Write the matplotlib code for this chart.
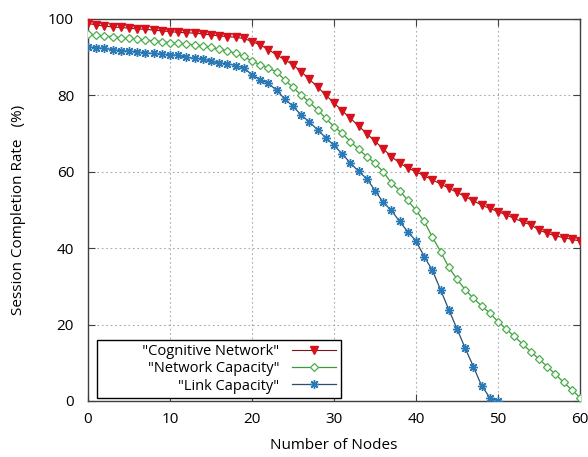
import matplotlib.pyplot as plt
import numpy as np

plt.rcParams['font.family'] = ['Open Sans', 'DejaVu Sans']

# Datos
nodes = np.arange(0, 61)
nodes_link = np.arange(0, 51)

cognitive = [98.9, 98.4, 98.2, 97.9, 97.8, 97.6, 97.4, 97.3, 97.1, 96.9,
             96.7, 96.5, 96.4, 96.3, 96.1, 95.8, 95.6, 95.4, 95.2, 94.9,
             94.1, 93.2, 92.0, 90.6, 89.3, 88.0, 86.2, 84.2, 82.2, 80.1,
             78.0, 76.0, 74.0, 72.0, 70.0, 68.0, 66.0, 64.0, 62.3, 61.0,
             60.0, 59.0, 57.9, 56.8, 55.7, 54.6, 53.5, 52.4, 51.3, 50.4,
             49.6, 48.7, 47.8, 46.9, 46.1, 44.8, 43.9, 43.2, 42.8, 42.3,
             41.9]

net_capacity = [96.0, 95.8, 95.5, 95.4, 95.1, 94.9, 94.8, 94.5, 94.3, 94.1,
                93.8, 93.6, 93.5, 93.2, 93.0, 92.6, 92.1, 91.7, 91.0, 90.2,
                89.0, 88.0, 87.1, 86.2, 84.0, 82.1, 80.1, 78.2, 76.2, 74.0,
                71.8, 70.1, 67.9, 65.9, 64.0, 62.2, 60.0, 57.1, 55.1, 52.5,
                49.9, 47.0, 42.9, 39.1, 35.0, 31.9, 29.1, 26.9, 24.9, 23.0,
                20.8, 18.8, 16.9, 14.9, 12.9, 11.0, 9.0, 7.0, 4.9, 2.9,
                0.9]

link_capacity = [92.7, 92.5, 92.3, 92.0, 91.7, 91.6, 91.4, 91.1, 91.0, 90.8,
                 90.6, 90.5, 90.0, 89.7, 89.6, 89.0, 88.5, 88.3, 87.8, 87.2,
                 85.4, 84.1, 83.2, 81.3, 79.1, 77.1, 74.9, 73.0, 71.0, 68.9,
                 66.9, 64.7, 62.3, 60.1, 58.2, 55.1, 52.0, 49.9, 47.0, 44.3,
                 41.9, 37.8, 34.2, 29.1, 23.9, 18.9, 13.8, 9.0, 4.0, 0.9,
                 0.0]

fig = plt.figure(figsize=(5.88, 4.57), dpi=100)
ax = fig.add_axes([88/588, 1-401/457, 492/588, 382/457])

ax.plot(nodes, cognitive, color='#7a1515', linewidth=0.8,
        marker='v', markersize=6, markerfacecolor='#d7121c',
        markeredgecolor='#d7121c', label='           "Cognitive Network"', zorder=3)
ax.plot(nodes, net_capacity, color='#3c9a3c', linewidth=0.9,
        marker='D', markersize=4, markerfacecolor='white',
        markeredgecolor='#4caf4c', markeredgewidth=0.9,
        label='"Network Capacity"', zorder=3)
ax.plot(nodes_link, link_capacity, color='#2b4f6e', linewidth=0.9,
        marker=(8, 2, 0), markersize=6.5, markeredgecolor='#2a7ab8',
        markeredgewidth=1.0, label='"Link Capacity"', zorder=3)

ax.set_xlim(0, 60)
ax.set_ylim(0, 100)
ax.set_xticks(range(0, 61, 10))
ax.set_yticks(range(0, 101, 20))
ax.tick_params(direction='in', top=True, right=True, length=5,
               labelsize=11, color='#404040')
ax.tick_params(axis='x', pad=8)
ax.tick_params(axis='y', pad=10)
for s in ax.spines.values():
    s.set_color('#404040')
    s.set_linewidth(1.0)
ax.grid(True, color='#aaaaaa', linestyle=(0, (1.5, 2.5)), linewidth=0.8)
ax.set_axisbelow(True)

ax.set_xlabel('Number of Nodes', fontsize=11, labelpad=8)
ax.set_ylabel('Session Completion Rate   (%)', fontsize=11, labelpad=16)

leg = ax.legend(loc='lower left', bbox_to_anchor=(0.018, 0.008),
                markerfirst=False, fontsize=10.5, handlelength=3,
                labelspacing=0.15, borderpad=0.3, handletextpad=0.9,
                borderaxespad=0, fancybox=False, framealpha=1)
leg.get_frame().set_edgecolor('black')
leg.get_frame().set_linewidth(1.0)

fig.savefig('out.png', dpi=100)
